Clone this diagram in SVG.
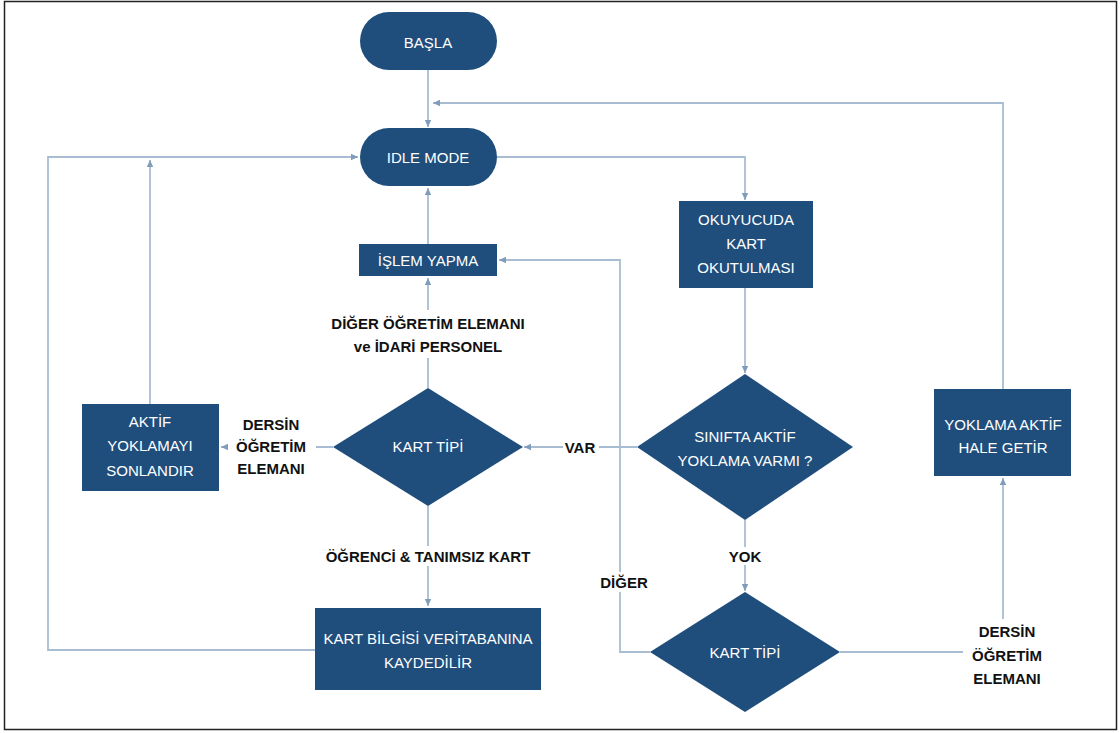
<svg xmlns="http://www.w3.org/2000/svg" width="1120" height="733" viewBox="0 0 1120 733">
<defs>
<marker id="ah" markerWidth="8" markerHeight="8" refX="7" refY="4" orient="auto" markerUnits="userSpaceOnUse">
<path d="M0,0.8 L7,4 L0,7.2 Z" fill="#7f9cba"/>
</marker>
<style>
.n{fill:#1f4e7d;}
.nt{font-family:"Liberation Sans",Arial,sans-serif;font-size:15px;fill:#ffffff;text-anchor:middle;dominant-baseline:central;}
.c{fill:none;stroke:#a9bdd2;stroke-width:1.8;}
.lb{font-family:"Liberation Sans",Arial,sans-serif;font-size:15px;font-weight:bold;fill:#111;text-anchor:middle;dominant-baseline:central;}
.bg{fill:#ffffff;}
</style>
</defs>
<rect x="0" y="0" width="1120" height="733" fill="#ffffff"/>
<rect x="4.5" y="1.5" width="1112" height="728" fill="none" stroke="#222" stroke-width="1.5"/>

<g id="connectors">
<path class="c" d="M428,70 V127" marker-end="url(#ah)"/>
<path class="c" d="M1003,389 V103 H433" marker-end="url(#ah)"/>
<path class="c" d="M497,157 H745 V200" marker-end="url(#ah)"/>
<path class="c" d="M745,288 V373" marker-end="url(#ah)"/>
<path class="c" d="M637,447 H524" marker-end="url(#ah)"/>
<path class="c" d="M745,520 V591" marker-end="url(#ah)"/>
<path class="c" d="M650,652 H620 V260 H499" marker-end="url(#ah)"/>
<path class="c" d="M840,652 H1003 V478" marker-end="url(#ah)"/>
<path class="c" d="M428,388 V278" marker-end="url(#ah)"/>
<path class="c" d="M428,244 V188" marker-end="url(#ah)"/>
<path class="c" d="M333,447 H221" marker-end="url(#ah)"/>
<path class="c" d="M150,404 V160" marker-end="url(#ah)"/>
<path class="c" d="M428,506 V606" marker-end="url(#ah)"/>
<path class="c" d="M315,650 H48 V157 H358" marker-end="url(#ah)"/>

<rect class="bg" x="316" y="310" width="224" height="48"/>
<text class="lb" x="428" y="323">DİĞER ÖĞRETİM ELEMANI</text>
<text class="lb" x="428" y="346">ve İDARİ PERSONEL</text>
<rect class="bg" x="563" y="438" width="36" height="18"/>
<text class="lb" x="580" y="447">VAR</text>
<rect class="bg" x="727" y="547" width="36" height="18"/>
<text class="lb" x="745" y="556">YOK</text>
<rect class="bg" x="596" y="572" width="56" height="20"/>
<text class="lb" x="624" y="582">DİĞER</text>
<rect class="bg" x="228" y="412" width="88" height="68"/>
<text class="lb" x="271" y="424">DERSİN</text>
<text class="lb" x="271" y="446">ÖĞRETİM</text>
<text class="lb" x="271" y="468">ELEMANI</text>
<rect class="bg" x="316" y="546" width="224" height="20"/>
<text class="lb" x="428" y="556">ÖĞRENCİ &amp; TANIMSIZ KART</text>
<rect class="bg" x="963" y="619" width="88" height="70"/>
<text class="lb" x="1007" y="631">DERSİN</text>
<text class="lb" x="1007" y="655">ÖĞRETİM</text>
<text class="lb" x="1007" y="678">ELEMANI</text>
</g>

<g id="basla">
<rect class="n" x="360" y="12" width="137" height="58" rx="29"/>
<text class="nt" x="428" y="42">BAŞLA</text>
</g>
<g id="idle">
<rect class="n" x="360" y="128" width="137" height="58" rx="29"/>
<text class="nt" x="428" y="157">IDLE MODE</text>
</g>
<g id="islem">
<rect class="n" x="359" y="244" width="138" height="32"/>
<text class="nt" x="428" y="260">İŞLEM YAPMA</text>
</g>
<g id="okuyucu">
<rect class="n" x="679" y="201" width="134" height="87"/>
<text class="nt" x="746" y="219">OKUYUCUDA</text>
<text class="nt" x="746" y="243">KART</text>
<text class="nt" x="746" y="267">OKUTULMASI</text>
</g>
<g id="sinifta">
<polygon class="n" points="745,374 853,447 745,520 637,447"/>
<text class="nt" x="745" y="436">SINIFTA AKTİF</text>
<text class="nt" x="745" y="460">YOKLAMA VARMI ?</text>
</g>
<g id="kart-tipi-1">
<polygon class="n" points="428,388 523,447 428,506 333,447"/>
<text class="nt" x="428" y="446">KART TİPİ</text>
</g>
<g id="aktif-sonlandir">
<rect class="n" x="82" y="404" width="137" height="87"/>
<text class="nt" x="150" y="421">AKTİF</text>
<text class="nt" x="150" y="445">YOKLAMAYI</text>
<text class="nt" x="150" y="470">SONLANDIR</text>
</g>
<g id="kart-bilgisi">
<rect class="n" x="315" y="608" width="226" height="82"/>
<text class="nt" x="428" y="638">KART BİLGİSİ VERİTABANINA</text>
<text class="nt" x="428" y="662">KAYDEDİLİR</text>
</g>
<g id="kart-tipi-2">
<polygon class="n" points="745,592 840,652 745,712 650,652"/>
<text class="nt" x="745" y="652">KART TİPİ</text>
</g>
<g id="yoklama-aktif">
<rect class="n" x="934" y="389" width="137" height="87"/>
<text class="nt" x="1003" y="424">YOKLAMA AKTİF</text>
<text class="nt" x="1003" y="447">HALE GETİR</text>
</g>
</svg>
